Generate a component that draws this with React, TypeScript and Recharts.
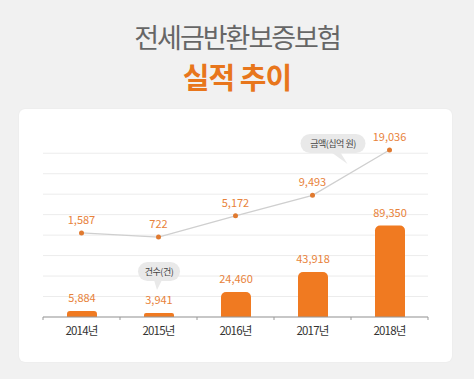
import React from "react";
import { ComposedChart, Bar, Line, XAxis, YAxis, CartesianGrid, LabelList } from "recharts";

const years = ["2014년", "2015년", "2016년", "2017년", "2018년"];
const counts = [5884, 3941, 24460, 43918, 89350];
const amounts = [1587, 722, 5172, 9493, 19036];
const countTicks = [0, 20000, 40000, 60000, 80000, 100000, 120000, 140000, 160000];
const countDomain = [0, 170000];
const amountDomain = [-16100, 20500];

const data = years.map((year, i) => ({ year, count: counts[i], amount: amounts[i] }));

const ORANGE = "#f07a21";
const LABEL = "#e8823a";
const FONT = "'Noto Sans CJK KR', 'Noto Sans', sans-serif";

const fmt = (v: number) => v.toLocaleString("en-US");

function BarLabel(props: any) {
  const { x, y, width, value, index } = props;
  const cx = x + width / 2;
  return (
    <g>
      <text x={cx} y={y - 9} textAnchor="middle" fontSize={11} fill={LABEL} fontFamily={FONT}>
        {fmt(value)}
      </text>
      {index === 1 && (
        <g>
          <rect x={cx - 21} y={y - 51} width={42} height={19} rx={9.5} fill="#e9e9e9" />
          <path d={`M${cx - 5} ${y - 33} L${cx - 2} ${y - 23} L${cx + 3} ${y - 33} Z`} fill="#e9e9e9" />
          <text x={cx} y={y - 38} textAnchor="middle" fontSize={9} fill="#444" fontFamily={FONT} letterSpacing={-0.5}>
            건수(건)
          </text>
        </g>
      )}
    </g>
  );
}

function LineLabel(props: any) {
  const { x, y, value, index } = props;
  return (
    <g>
      <text x={x} y={y - 9} textAnchor="middle" fontSize={11} fill={LABEL} fontFamily={FONT}>
        {fmt(value)}
      </text>
      {index === amounts.length - 1 && (
        <g>
          <rect x={x - 89} y={y - 16} width={65} height={19} rx={9.5} fill="#e9e9e9" />
          <path d={`M${x - 60} ${y + 1} L${x - 42} ${y + 14} L${x - 50} ${y + 1} Z`} fill="#e9e9e9" />
          <text x={x - 56.5} y={y - 3} textAnchor="middle" fontSize={9} fill="#444" fontFamily={FONT} letterSpacing={-0.5}>
            금액(십억 원)
          </text>
        </g>
      )}
    </g>
  );
}

function YearTick(props: any) {
  const { x, y, payload, index } = props;
  const half = payload?.offset ?? 38.5;
  return (
    <g>
      <line x1={x - half} y1={y} x2={x - half} y2={y + 3} stroke="#999" />
      {index === years.length - 1 && <line x1={x + half} y1={y} x2={x + half} y2={y + 3} stroke="#999" />}
      <text x={x} y={y + 18} textAnchor="middle" fontSize={11.5} fill="#333" fontFamily={FONT} letterSpacing={-0.8}>
        {payload.value}
      </text>
    </g>
  );
}

// grid rows follow the count axis ticks
const gridRows = ({ offset }: any) =>
  countTicks.map((t) => offset.top + offset.height * (1 - t / countDomain[1]));

export default function App() {
  return (
    <div style={{ position: "absolute", left: 0, top: 0, width: 474, height: 379, background: "#f1f1f1", overflow: "hidden", fontFamily: FONT }}>
      <div style={{ position: "absolute", left: 0, top: 22, width: 474, textAlign: "center", fontSize: 27, lineHeight: "30px", color: "#666", letterSpacing: -2, fontWeight: 400 }}>
        전세금반환보증보험
      </div>
      <div style={{ position: "absolute", left: 0, top: 60, width: 474, textAlign: "center", fontSize: 29, lineHeight: "32px", color: "#e8761c", letterSpacing: -1, fontWeight: 700 }}>
        실적 추이
      </div>
      <div style={{ position: "absolute", left: 19, top: 109, width: 433, height: 253, background: "#fff", borderRadius: 6, boxShadow: "0 0 2px rgba(0,0,0,0.06)" }} />
      <div style={{ position: "absolute", left: 0, top: 0 }}>
        <ComposedChart width={474} height={379} data={data} margin={{ top: 143, right: 46, bottom: 32, left: 43 }}>
          <CartesianGrid vertical={false} stroke="#ececec" horizontalCoordinatesGenerator={gridRows} />
          <XAxis
            dataKey="year"
            height={30}
            tickLine={false}
            tickSize={0}
            tickMargin={0}
            axisLine={{ stroke: "#999" }}
            tick={<YearTick />}
            interval={0}
          />
          <YAxis yAxisId="count" hide domain={countDomain} ticks={countTicks} />
          <YAxis yAxisId="amount" hide domain={amountDomain} />
          <Bar yAxisId="count" dataKey="count" fill={ORANGE} barSize={30} radius={[5, 5, 0, 0]} isAnimationActive={false}>
            <LabelList dataKey="count" content={<BarLabel />} />
          </Bar>
          <Line
            yAxisId="amount"
            dataKey="amount"
            type="linear"
            stroke="#cfcfcf"
            strokeWidth={1.3}
            dot={{ r: 2.5, fill: "#e07a30", stroke: "none" }}
            isAnimationActive={false}
          >
            <LabelList dataKey="amount" content={<LineLabel />} />
          </Line>
        </ComposedChart>
      </div>
    </div>
  );
}
